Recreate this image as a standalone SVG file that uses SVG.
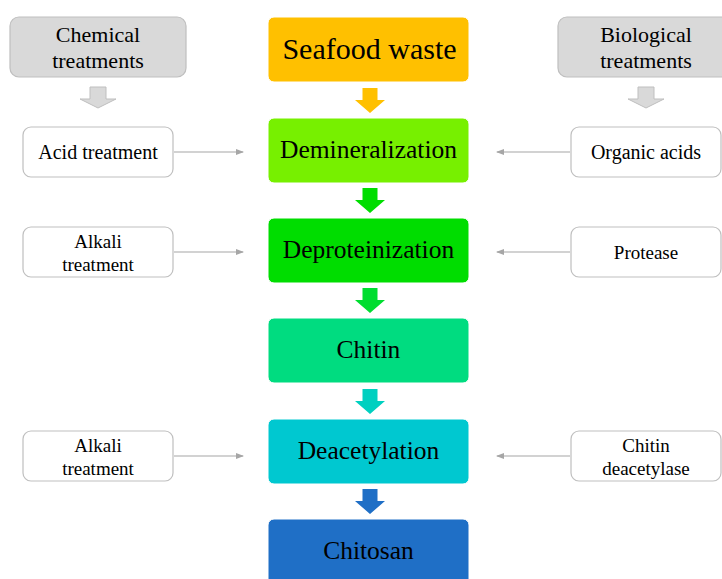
<svg xmlns="http://www.w3.org/2000/svg" width="722" height="579" viewBox="0 0 722 579">
<defs>
<style>
.t{font-family:"Liberation Serif","Times New Roman",serif;fill:#000;text-anchor:middle}
.main{stroke:#ffffff;stroke-width:1}
.side{fill:#fff;stroke:#bfbfbf;stroke-width:1.2}
.hdr{fill:#d9d9d9;stroke:#bfbfbf;stroke-width:1.2}
.ln{stroke:#a6a6a6;stroke-width:1.2;fill:none}
</style>
<marker id="ah" markerWidth="8" markerHeight="8" refX="7" refY="4" orient="auto" markerUnits="userSpaceOnUse">
<path d="M0,1 L8,4 L0,7 Z" fill="#a6a6a6"/>
</marker>
<path id="blk" d="M-7.5,0 H7.5 V12 H15 L0,25 L-15,12 H-7.5 Z"/>
</defs>
<rect width="722" height="579" fill="#fff"/>

<g id="chemical">
<rect class="hdr" x="10" y="17" width="176" height="60" rx="9"/>
<text class="t" x="98" y="42" font-size="22">Chemical</text>
<text class="t" x="98" y="68" font-size="22">treatments</text>
</g>
<g id="biological">
<rect class="hdr" x="558" y="17" width="176" height="60" rx="9"/>
<text class="t" x="646" y="42" font-size="22">Biological</text>
<text class="t" x="646" y="68" font-size="22">treatments</text>
</g>
<g id="grayarrows">
<path d="M90,87 H106 V99 H116 L98,108 L80,99 H90 Z" fill="#d9d9d9" stroke="#bfbfbf" stroke-width="1"/>
<path d="M638,87 H654 V99 H664 L646,108 L628,99 H638 Z" fill="#d9d9d9" stroke="#bfbfbf" stroke-width="1"/>
</g>

<g id="seafood">
<rect class="main" x="268" y="17" width="201" height="65" rx="6" fill="#ffc000"/>
<text class="t" x="369.5" y="59" font-size="30">Seafood waste</text>
</g>
<g id="demineralization">
<rect class="main" x="268" y="118" width="201" height="65" rx="6" fill="#77f000"/>
<text class="t" x="368.5" y="158" font-size="25.5">Demineralization</text>
</g>
<g id="deproteinization">
<rect class="main" x="268" y="218" width="201" height="65" rx="6" fill="#00dd00"/>
<text class="t" x="368.5" y="258" font-size="25.5">Deproteinization</text>
</g>
<g id="chitin">
<rect class="main" x="268" y="318" width="201" height="65" rx="6" fill="#00dc80"/>
<text class="t" x="368.5" y="358" font-size="25.5">Chitin</text>
</g>
<g id="deacetylation">
<rect class="main" x="268" y="419" width="201" height="65" rx="6" fill="#00c8d0"/>
<text class="t" x="368.5" y="459" font-size="25.5">Deacetylation</text>
</g>
<g id="chitosan">
<rect class="main" x="268" y="519" width="201" height="70" rx="6" fill="#1f6fc6"/>
<text class="t" x="368.5" y="559" font-size="25.5">Chitosan</text>
</g>

<g id="flowarrows">
<use href="#blk" x="370" y="88" fill="#ffc000"/>
<use href="#blk" x="370" y="188" fill="#00dd00"/>
<use href="#blk" x="370" y="288" fill="#00dd30"/>
<use href="#blk" x="370" y="389" fill="#00d0c0"/>
<use href="#blk" x="370" y="489" fill="#1f6fc6"/>
</g>

<g id="acid">
<rect class="side" x="23" y="127" width="150" height="50" rx="8"/>
<text class="t" x="98" y="159" font-size="20">Acid treatment</text>
</g>
<g id="alkali1">
<rect class="side" x="23" y="227" width="150" height="50" rx="8"/>
<text class="t" x="98" y="248" font-size="19">Alkali</text>
<text class="t" x="98" y="271" font-size="19">treatment</text>
</g>
<g id="alkali2">
<rect class="side" x="23" y="431" width="150" height="50" rx="8"/>
<text class="t" x="98" y="452" font-size="19">Alkali</text>
<text class="t" x="98" y="475" font-size="19">treatment</text>
</g>
<g id="organic">
<rect class="side" x="571" y="127" width="150" height="50" rx="8"/>
<text class="t" x="646" y="159" font-size="20">Organic acids</text>
</g>
<g id="protease">
<rect class="side" x="571" y="227" width="150" height="50" rx="8"/>
<text class="t" x="646" y="259" font-size="19">Protease</text>
</g>
<g id="deacetylase">
<rect class="side" x="571" y="431" width="150" height="50" rx="8"/>
<text class="t" x="646" y="452" font-size="19">Chitin</text>
<text class="t" x="646" y="475" font-size="19">deacetylase</text>
</g>

<g id="connectors">
<line class="ln" x1="174" y1="152" x2="243" y2="152" marker-end="url(#ah)"/>
<line class="ln" x1="174" y1="252" x2="243" y2="252" marker-end="url(#ah)"/>
<line class="ln" x1="174" y1="456" x2="243" y2="456" marker-end="url(#ah)"/>
<line class="ln" x1="570" y1="152" x2="497" y2="152" marker-end="url(#ah)"/>
<line class="ln" x1="570" y1="252" x2="497" y2="252" marker-end="url(#ah)"/>
<line class="ln" x1="570" y1="456" x2="497" y2="456" marker-end="url(#ah)"/>
</g>
</svg>
